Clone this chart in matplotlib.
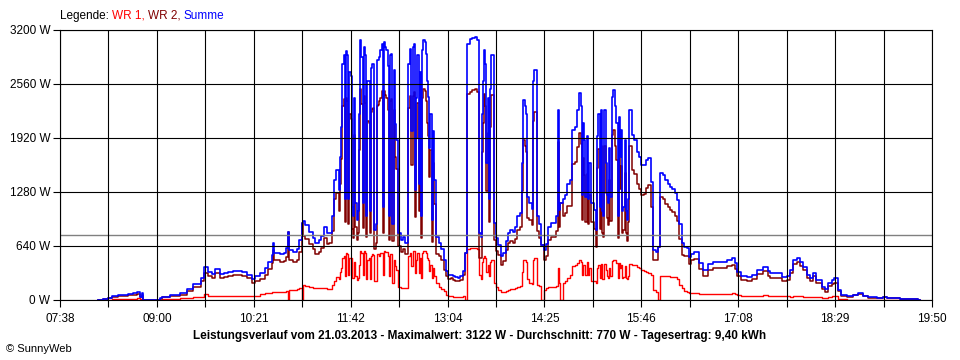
import numpy as np
import matplotlib.pyplot as plt

# Messwerte vom 21.03.2013 (Uhrzeit, Summe in W, WR 1 in W)
times = ["08:10", "08:14", "08:18", "08:22", "08:27", "08:31", "08:35", "08:39", "08:43", "08:45",
         "08:47", "08:48", "08:59", "09:02", "09:04", "09:10", "09:19", "09:25", "09:30", "09:36",
         "09:39", "09:42", "09:46", "09:48", "09:52", "09:56", "09:59", "10:03", "10:07", "10:11",
         "10:15", "10:19", "10:22", "10:26", "10:30", "10:33", "10:36", "10:37", "10:38", "10:43",
         "10:46", "10:48", "10:49", "10:50", "10:54", "10:57", "10:59", "11:01", "11:02", "11:04",
         "11:07", "11:10", "11:12", "11:15", "11:17", "11:20", "11:22",
         "11:24", "11:26", "11:28", "11:30", "11:32", "11:34", "11:36", "11:38", "11:40", "11:42",
         "11:44", "11:46", "11:48", "11:50", "11:52", "11:54", "11:56", "11:58", "12:00", "12:02",
         "12:04", "12:06", "12:08", "12:10", "12:12", "12:14", "12:16", "12:18", "12:20", "12:22",
         "12:24", "12:26", "12:28", "12:30", "12:32", "12:34", "12:36", "12:38", "12:40", "12:42",
         "12:44", "12:46", "12:48", "12:50", "12:52", "12:54", "12:56", "12:58", "13:00", "13:02",
         "13:04", "13:06", "13:08", "13:10", "13:12", "13:14", "13:16", "13:18", "13:20", "13:22",
         "13:24", "13:26", "13:28", "13:30", "13:32", "13:34", "13:36", "13:38", "13:40", "13:42",
         "13:44", "13:46", "13:48", "13:50", "13:52", "13:54", "13:56", "13:58", "14:00", "14:02",
         "14:04", "14:06", "14:08", "14:10", "14:12", "14:14", "14:16", "14:18", "14:20", "14:22",
         "14:24", "14:26", "14:28", "14:30", "14:32", "14:34", "14:36", "14:38", "14:40", "14:42",
         "14:44", "14:46", "14:48", "14:50", "14:52", "14:54", "14:56", "14:58", "15:00", "15:02",
         "15:04", "15:06", "15:08", "15:10", "15:12", "15:14", "15:16", "15:18", "15:20", "15:22",
         "15:24", "15:26", "15:28", "15:30", "15:32", "15:34", "15:36", "15:38", "15:40", "15:42",
         "15:44", "15:46", "15:48", "15:50", "15:52", "15:54", "15:56", "15:58", "16:00", "16:02",
         "16:04", "16:06", "16:08", "16:10", "16:12", "16:14", "16:16", "16:18", "16:20", "16:22",
         "16:24", "16:26", "16:28", "16:30",
         "16:34", "16:38", "16:42", "16:46", "16:50", "16:54", "16:58", "17:02", "17:05", "17:06",
         "17:10", "17:15", "17:19", "17:23", "17:28", "17:32", "17:34", "17:40", "17:44", "17:48",
         "17:51", "17:53", "17:57", "17:59", "18:02", "18:05", "18:08", "18:10", "18:13", "18:18",
         "18:20", "18:23", "18:26", "18:28", "18:31", "18:34", "18:39", "18:44", "18:48", "18:52",
         "18:56", "19:04", "19:09", "19:12", "19:23", "19:38", "19:40"]

summe = [5, 15, 25, 45, 55, 60, 70, 80, 95, 40,
         80, 0, 5, 20, 40, 60, 80, 130, 190, 260,
         390, 330, 310, 370, 310, 320, 330, 340, 340, 330,
         300, 250, 280, 320, 380, 450, 530, 680, 560, 545,
         560, 615, 810, 590, 570, 600, 710, 910, 935, 890,
         810, 740, 680, 710, 760, 870, 800,
         800, 1000, 1420, 1540, 1300, 2050, 2900, 2950, 1200, 2650,
         1000, 1150, 1050, 3080, 1150, 2900, 2600, 1050, 2800, 830,
         2840, 2880, 3040, 3060, 2960, 990, 2920, 2730, 1900, 790,
         710, 750, 680, 2800, 2980, 3000, 1300, 2900, 2700, 2960,
         3060, 2600, 1800, 950, 1420, 750, 670, 610, 470, 340,
         300, 300, 280, 270, 260, 280, 340, 560, 3040, 3090,
         3110, 3122, 3080, 800, 2200, 2960, 1620, 1200, 2900, 910,
         740, 650, 520, 560, 700, 790, 830, 810, 860, 990,
         1030, 1620, 2300, 1220, 1150, 1080, 2730, 1000, 900, 650,
         590, 660, 860, 910, 910, 990, 2250, 1150, 1200, 1250,
         1380, 1420, 2010, 2050, 2250, 2450, 1250, 1900, 1940, 1620,
         1150, 1070, 830, 2210, 2250, 1000, 1620, 1150, 1220, 2490,
         2300, 990, 1700, 1050, 1900, 950, 2250, 1960, 1900, 1760,
         1700, 1600, 1600, 1660, 1680, 1400, 590, 570, 630, 1500,
         1480, 1420, 1380, 1340, 1310, 1270, 1190, 900, 670, 630,
         620, 510, 550, 570,
         440, 360, 430, 455, 455, 450, 475, 495, 440, 335,
         285, 270, 295, 355, 395, 340, 315, 315, 275, 280,
         355, 475, 495, 450, 395, 295, 255, 325, 235, 150,
         125, 200, 235, 255, 120, 60, 45, 60, 80, 50,
         30, 20, 40, 20, 12, 5, 0]

wr1 = [0, 0, 5, 10, 10, 12, 15, 15, 20, 10,
       15, 0, 0, 5, 10, 15, 20, 25, 30, 40,
       70, 50, 45, 45, 45, 45, 45, 45, 45, 45,
       45, 45, 50, 70, 80, 85, 90, 90, 90, 95,
       100, 110, 0, 120, 120, 125, 140, 0, 180, 170,
       150, 140, 140, 140, 140, 140, 135,
       130, 180, 220, 270, 250, 380, 520, 560, 300, 500,
       260, 280, 260, 580, 300, 560, 480, 250, 540, 230,
       540, 520, 560, 580, 570, 280, 540, 480, 350, 150,
       140, 140, 140, 520, 560, 580, 320, 560, 500, 560,
       580, 500, 340, 260, 280, 200, 150, 130, 110, 60,
       50, 45, 40, 40, 40, 40, 45, 0, 600, 620,
       620, 620, 610, 300, 450, 520, 330, 280, 470, 200,
       160, 120, 100, 100, 110, 120, 130, 130, 140, 160,
       170, 330, 470, 250, 200, 190, 500, 180, 170, 0,
       120, 140, 150, 160, 160, 170, 380, 0, 200, 220,
       260, 300, 400, 420, 440, 470, 300, 420, 450, 380,
       230, 230, 200, 420, 430, 250, 350, 260, 280, 470,
       480, 260, 380, 260, 400, 250, 430, 420, 410, 390,
       380, 350, 340, 330, 320, 300, 120, 100, 0, 280,
       280, 280, 280, 270, 270, 270, 250, 180, 140, 110,
       100, 80, 80, 80,
       75, 70, 70, 70, 70, 70, 75, 80, 70, 55,
       50, 50, 50, 50, 55, 50, 50, 50, 45, 45,
       40, 45, 45, 45, 40, 40, 35, 35, 30, 25,
       25, 30, 45, 50, 15, 8, 5, 5, 5, 5,
       3, 2, 2, 0, 0, 0, 0]

# Zwischenwerte in den wolkigen Abschnitten (ungerade Minuten)
times_extra = ["11:33", "11:35", "11:37", "11:39", "11:41", "11:43", "11:45", "11:47", "11:49", "11:51",
               "11:53", "11:55", "11:57", "11:59", "12:01", "12:03", "12:05", "12:07", "12:09", "12:11",
               "12:13", "12:15", "12:17", "12:19", "12:33", "12:35", "12:37", "12:39", "12:41", "12:43",
               "12:45", "12:47", "12:49", "12:51", "13:31", "13:33", "13:35", "13:37", "13:39", "14:07",
               "14:09", "14:15", "14:37", "14:55", "14:57", "14:59", "15:01", "15:09", "15:11", "15:13",
               "15:15", "15:17", "15:19", "15:21", "15:23", "15:25", "15:27", "15:29", "15:31", "15:33",
               "15:35"]
summe_extra = [1700, 2800, 1200, 2900, 2700, 1100, 2400, 950, 2200, 2880,
               3000, 1000, 2600, 2750, 2800, 900, 2850, 2960, 1100, 3000,
               2770, 2900, 900, 2090, 2000, 3040, 2400, 1380, 990, 3080,
               2920, 2410, 2200, 2000, 750, 2600, 2800, 2400, 2500, 2370,
               2210, 2600, 1070, 2300, 2100, 1220, 1200, 1940, 1100, 1050,
               2250, 1250, 1800, 2410, 2490, 2100, 2170, 2010, 1100, 1050,
               1200]
wr1_extra = [330, 500, 280, 540, 500, 260, 450, 240, 420, 560,
             580, 250, 500, 520, 530, 220, 540, 560, 300, 570,
             520, 540, 200, 400, 400, 580, 480, 320, 260, 580,
             560, 470, 420, 380, 250, 500, 500, 420, 450, 470,
             450, 480, 200, 450, 420, 300, 300, 380, 260, 250,
             430, 280, 380, 460, 480, 440, 440, 420, 270, 260,
             280]

durchschnitt = 770
y_ticks = [0, 640, 1280, 1920, 2560, 3200]
x_labels = ["07:38", "09:00", "10:21", "11:42", "13:04", "14:25", "15:46", "17:08", "18:29", "19:50"]


def minuten(s):
    h, m = s.split(":")
    return int(h) * 60 + int(m)


t = np.array([minuten(s) for s in times + times_extra])
s_all = np.array(summe + summe_extra)
r_all = np.array(wr1 + wr1_extra)
order = np.argsort(t)
t, s_all, r_all = t[order], s_all[order], r_all[order]
w2_all = s_all - r_all  # WR 2 ist der Rest der Summe

t0, t1 = minuten(x_labels[0]), minuten(x_labels[-1])

plt.rcParams['font.family'] = ['Liberation Sans', 'DejaVu Sans']

fig = plt.figure(figsize=(9.6, 3.6), dpi=100)
ax = fig.add_axes([60/960, 60/360, 872/960, 270/360])

ax.plot(t, r_all, color='#ff0000', lw=1.0, drawstyle='steps-post', zorder=1.5)
ax.plot(t, w2_all, color='#800000', lw=1.1, drawstyle='steps-post', zorder=1.6)
ax.plot(t, s_all, color='#0000ff', lw=1.2, drawstyle='steps-post', zorder=1.7)
ax.axhline(durchschnitt, color='#808080', lw=1.0, zorder=1.8)

ax.set_xlim(t0, t1)
ax.set_ylim(0, 3200)
ax.set_xticks(np.linspace(t0, t1, len(x_labels)))
ax.set_xticklabels(x_labels)
ax.set_xticks(np.linspace(t0, t1, 19), minor=True)
ax.set_yticks(y_ticks)
ax.set_yticklabels([f"{v} W" for v in y_ticks])
ax.tick_params(which='both', direction='out', length=5, width=0.8, color='black',
               labelsize=8.5, pad=2)
ax.tick_params(axis='x', pad=4)
ax.grid(True, which='both', color='black', lw=0.8)
ax.set_axisbelow(False)
for sp in ax.spines.values():
    sp.set_color('black')
    sp.set_linewidth(0.8)

fig.text(480/960, 1 - 336/360,
         "Leistungsverlauf vom 21.03.2013 - Maximalwert: 3122 W - Durchschnitt: 770 W - Tagesertrag: 9,40 kWh",
         ha='center', va='center', fontsize=8.5, fontweight='bold')
fig.text(6/960, 1 - 349/360, "\u00a9 SunnyWeb", ha='left', va='center', fontsize=8)

# Legende oben links, farbig zusammengesetzt
fig.canvas.draw()
r = fig.canvas.get_renderer()
x = 60
for txt, col in [("Legende:", 'black'), ("WR 1,", '#ff0000'), ("WR 2,", '#800000'), ("Summe", '#0000ff')]:
    tt = fig.text(x/960, 1 - 16/360, txt, color=col, ha='left', va='center', fontsize=8.5)
    bb = tt.get_window_extent(renderer=r)
    x = bb.x1 + 3

fig.savefig('out.png', dpi=100)
